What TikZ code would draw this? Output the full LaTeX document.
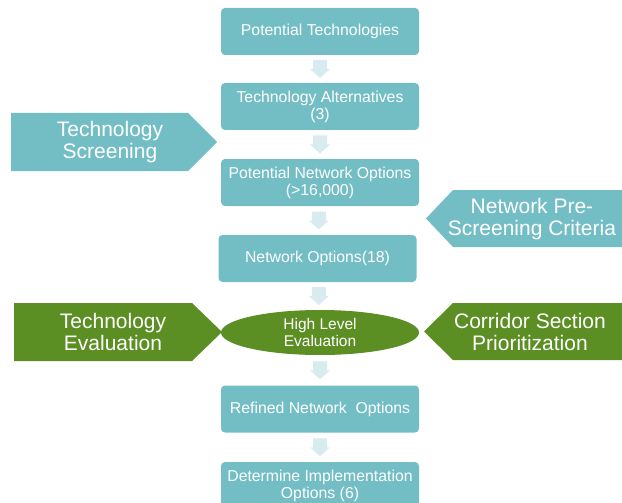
\documentclass[tikz,border=0pt]{standalone}
\usepackage{fontspec}
\setmainfont{Liberation Sans}
\usetikzlibrary{calc,shapes.geometric}

\definecolor{teal1}{HTML}{73BEC5}
\definecolor{leaf}{HTML}{5B8E23}
\definecolor{paleflow}{HTML}{D8ECEF}

\tikzset{
  stepbox/.style={fill=teal1, rounded corners=4pt, minimum width=198pt,
    minimum height=47pt, inner sep=0pt, align=center, text=white,
    font=\fontsize{15.8}{17}\selectfont},
  evalnode/.style={ellipse, fill=leaf, minimum width=198pt, minimum height=45pt,
    inner sep=0pt, align=center, text=white, font=\fontsize{15.5}{17}\selectfont},
  sidelabel/.style={align=center, text=white, inner sep=0pt,
    font=\fontsize{21}{22}\selectfont},
  flowfill/.style={fill=paleflow},
}

% light block arrow centred between two nodes
\newcommand\flowstep[2]{%
  \path[flowfill] ($(#1.south)!0.5!(#2.north)$) coordinate (fm)
    ([shift={(-7,-9)}]fm) -- ([shift={(7,-9)}]fm) -- ([shift={(7,0)}]fm)
    -- ([shift={(10,0)}]fm) -- ([shift={(0,9)}]fm) -- ([shift={(-10,0)}]fm)
    -- ([shift={(-7,0)}]fm) -- cycle;}

\begin{document}
\begin{tikzpicture}[x=1pt,y=-1pt]
\useasboundingbox (0,0) rectangle (622,503);
\clip (0,0) rectangle (622,503);

% main column
\node[stepbox] (pt)  at (320,31.5)  {Potential Technologies};
\node[stepbox] (ta)  at (320,106.5) {Technology Alternatives\\(3)};
\node[stepbox] (pno) at (320,182.5) {Potential Network Options\\(>16,000)};
\node[stepbox] (no)  at (317.5,258.5) {Network Options(18)};
\node[evalnode] (hle) at (320,332.5) {High Level\\Evaluation};
\node[stepbox] (rno) at (320,409) {Refined Network~ Options};
\node[stepbox] (dio) at (320,485.5) {Determine Implementation\\Options (6)};

\flowstep{pt}{ta}
\flowstep{ta}{pno}
\flowstep{pno}{no}
\flowstep{no}{hle}
\flowstep{hle}{rno}
\flowstep{rno}{dio}

% side inputs
\fill[teal1] (11,113) -- (188,113) -- (217,142) -- (188,171) -- (11,171) -- cycle;
\node[sidelabel] (tscr) at (110,142) {Technology\\Screening};

\fill[teal1] (622,190) -- (453,190) -- (426,218.5) -- (453,247) -- (622,247) -- cycle;
\node[sidelabel] (npsc) at (532,219) {Network Pre-\\Screening Criteria};

\fill[leaf] (14,303) -- (192,303) -- (222,332) -- (192,361) -- (14,361) -- cycle;
\node[sidelabel] (teval) at (113,332) {Technology\\Evaluation};

\fill[leaf] (622,303) -- (453,303) -- (424,331.5) -- (453,360) -- (622,360) -- cycle;
\node[sidelabel] (csp) at (530,332) {Corridor Section\\Prioritization};
\end{tikzpicture}
\end{document}
